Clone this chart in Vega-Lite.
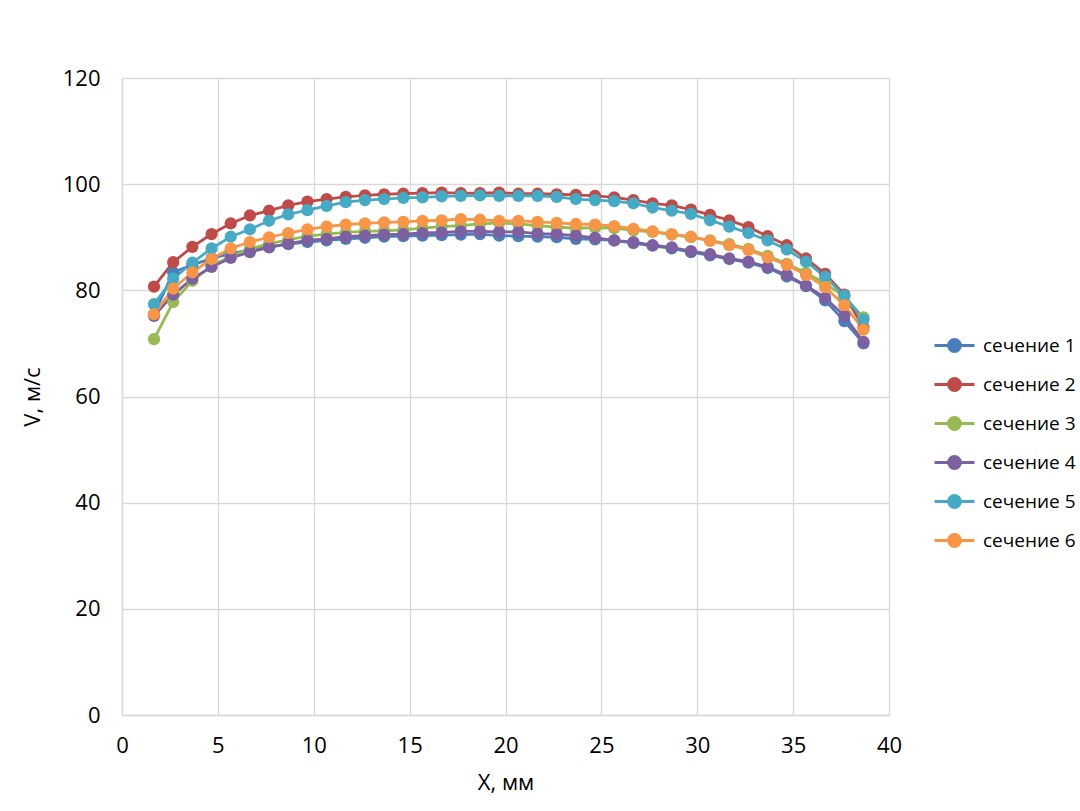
{
  "$schema": "https://vega.github.io/schema/vega-lite/v6.json",
  "description": "V, м/с по сечениям",
  "width": 767,
  "height": 637,
  "autosize": "none",
  "padding": {"left": 122, "top": 78, "right": 191, "bottom": 96},
  "background": "white",
  "config": {
    "view": {"stroke": null},
    "font": "Open Sans",
    "axis": {
      "labelFont": "Open Sans",
      "titleFont": "Open Sans",
      "labelFontSize": 22,
      "titleFontSize": 22,
      "labelColor": "#000000",
      "titleColor": "#000000",
      "titleFontWeight": "normal",
      "gridColor": "#d9d9d9",
      "gridWidth": 1.3,
      "domainColor": "#d9d9d9",
      "domainWidth": 1.3,
      "ticks": false
    }
  },
  "data": {
    "values": [
      {"x": 1.67, "s": "сечение 1", "v": 75.5},
      {"x": 2.67, "s": "сечение 1", "v": 83.4},
      {"x": 3.67, "s": "сечение 1", "v": 84.8},
      {"x": 4.67, "s": "сечение 1", "v": 86.0},
      {"x": 5.67, "s": "сечение 1", "v": 86.9},
      {"x": 6.67, "s": "сечение 1", "v": 87.6},
      {"x": 7.67, "s": "сечение 1", "v": 88.2},
      {"x": 8.67, "s": "сечение 1", "v": 88.7},
      {"x": 9.67, "s": "сечение 1", "v": 89.1},
      {"x": 10.67, "s": "сечение 1", "v": 89.4},
      {"x": 11.67, "s": "сечение 1", "v": 89.7},
      {"x": 12.67, "s": "сечение 1", "v": 89.9},
      {"x": 13.67, "s": "сечение 1", "v": 90.1},
      {"x": 14.67, "s": "сечение 1", "v": 90.2},
      {"x": 15.67, "s": "сечение 1", "v": 90.3},
      {"x": 16.67, "s": "сечение 1", "v": 90.4},
      {"x": 17.67, "s": "сечение 1", "v": 90.5},
      {"x": 18.67, "s": "сечение 1", "v": 90.6},
      {"x": 19.67, "s": "сечение 1", "v": 90.3},
      {"x": 20.67, "s": "сечение 1", "v": 90.2},
      {"x": 21.67, "s": "сечение 1", "v": 90.1},
      {"x": 22.67, "s": "сечение 1", "v": 90.0},
      {"x": 23.67, "s": "сечение 1", "v": 89.7},
      {"x": 24.67, "s": "сечение 1", "v": 89.6},
      {"x": 25.67, "s": "сечение 1", "v": 89.4},
      {"x": 26.67, "s": "сечение 1", "v": 88.9},
      {"x": 27.67, "s": "сечение 1", "v": 88.4},
      {"x": 28.67, "s": "сечение 1", "v": 87.9},
      {"x": 29.67, "s": "сечение 1", "v": 87.2},
      {"x": 30.67, "s": "сечение 1", "v": 86.6},
      {"x": 31.67, "s": "сечение 1", "v": 85.9},
      {"x": 32.67, "s": "сечение 1", "v": 85.2},
      {"x": 33.67, "s": "сечение 1", "v": 84.2},
      {"x": 34.67, "s": "сечение 1", "v": 82.6},
      {"x": 35.67, "s": "сечение 1", "v": 80.8},
      {"x": 36.67, "s": "сечение 1", "v": 78.1},
      {"x": 37.67, "s": "сечение 1", "v": 74.2},
      {"x": 38.67, "s": "сечение 1", "v": 70.0},
      {"x": 1.67, "s": "сечение 2", "v": 80.7},
      {"x": 2.67, "s": "сечение 2", "v": 85.3},
      {"x": 3.67, "s": "сечение 2", "v": 88.2},
      {"x": 4.67, "s": "сечение 2", "v": 90.6},
      {"x": 5.67, "s": "сечение 2", "v": 92.6},
      {"x": 6.67, "s": "сечение 2", "v": 94.1},
      {"x": 7.67, "s": "сечение 2", "v": 95.0},
      {"x": 8.67, "s": "сечение 2", "v": 96.0},
      {"x": 9.67, "s": "сечение 2", "v": 96.7},
      {"x": 10.67, "s": "сечение 2", "v": 97.2},
      {"x": 11.67, "s": "сечение 2", "v": 97.6},
      {"x": 12.67, "s": "сечение 2", "v": 97.9},
      {"x": 13.67, "s": "сечение 2", "v": 98.1},
      {"x": 14.67, "s": "сечение 2", "v": 98.2},
      {"x": 15.67, "s": "сечение 2", "v": 98.3},
      {"x": 16.67, "s": "сечение 2", "v": 98.4},
      {"x": 17.67, "s": "сечение 2", "v": 98.3},
      {"x": 18.67, "s": "сечение 2", "v": 98.3},
      {"x": 19.67, "s": "сечение 2", "v": 98.4},
      {"x": 20.67, "s": "сечение 2", "v": 98.2},
      {"x": 21.67, "s": "сечение 2", "v": 98.2},
      {"x": 22.67, "s": "сечение 2", "v": 98.1},
      {"x": 23.67, "s": "сечение 2", "v": 98.0},
      {"x": 24.67, "s": "сечение 2", "v": 97.8},
      {"x": 25.67, "s": "сечение 2", "v": 97.5},
      {"x": 26.67, "s": "сечение 2", "v": 97.0},
      {"x": 27.67, "s": "сечение 2", "v": 96.4},
      {"x": 28.67, "s": "сечение 2", "v": 96.0},
      {"x": 29.67, "s": "сечение 2", "v": 95.2},
      {"x": 30.67, "s": "сечение 2", "v": 94.2},
      {"x": 31.67, "s": "сечение 2", "v": 93.2},
      {"x": 32.67, "s": "сечение 2", "v": 91.9},
      {"x": 33.67, "s": "сечение 2", "v": 90.2},
      {"x": 34.67, "s": "сечение 2", "v": 88.5},
      {"x": 35.67, "s": "сечение 2", "v": 86.0},
      {"x": 36.67, "s": "сечение 2", "v": 83.1},
      {"x": 37.67, "s": "сечение 2", "v": 79.2},
      {"x": 38.67, "s": "сечение 2", "v": 73.0},
      {"x": 1.67, "s": "сечение 3", "v": 70.8},
      {"x": 2.67, "s": "сечение 3", "v": 77.8},
      {"x": 3.67, "s": "сечение 3", "v": 81.8},
      {"x": 4.67, "s": "сечение 3", "v": 84.6},
      {"x": 5.67, "s": "сечение 3", "v": 86.4},
      {"x": 6.67, "s": "сечение 3", "v": 87.8},
      {"x": 7.67, "s": "сечение 3", "v": 88.8},
      {"x": 8.67, "s": "сечение 3", "v": 89.5},
      {"x": 9.67, "s": "сечение 3", "v": 90.2},
      {"x": 10.67, "s": "сечение 3", "v": 90.6},
      {"x": 11.67, "s": "сечение 3", "v": 90.9},
      {"x": 12.67, "s": "сечение 3", "v": 91.1},
      {"x": 13.67, "s": "сечение 3", "v": 91.2},
      {"x": 14.67, "s": "сечение 3", "v": 91.4},
      {"x": 15.67, "s": "сечение 3", "v": 91.7},
      {"x": 16.67, "s": "сечение 3", "v": 92.0},
      {"x": 17.67, "s": "сечение 3", "v": 92.2},
      {"x": 18.67, "s": "сечение 3", "v": 92.5},
      {"x": 19.67, "s": "сечение 3", "v": 92.7},
      {"x": 20.67, "s": "сечение 3", "v": 92.5},
      {"x": 21.67, "s": "сечение 3", "v": 92.2},
      {"x": 22.67, "s": "сечение 3", "v": 91.9},
      {"x": 23.67, "s": "сечение 3", "v": 91.7},
      {"x": 24.67, "s": "сечение 3", "v": 91.8},
      {"x": 25.67, "s": "сечение 3", "v": 91.7},
      {"x": 26.67, "s": "сечение 3", "v": 91.3},
      {"x": 27.67, "s": "сечение 3", "v": 91.0},
      {"x": 28.67, "s": "сечение 3", "v": 90.5},
      {"x": 29.67, "s": "сечение 3", "v": 90.0},
      {"x": 30.67, "s": "сечение 3", "v": 89.4},
      {"x": 31.67, "s": "сечение 3", "v": 88.7},
      {"x": 32.67, "s": "сечение 3", "v": 87.8},
      {"x": 33.67, "s": "сечение 3", "v": 86.5},
      {"x": 34.67, "s": "сечение 3", "v": 85.0},
      {"x": 35.67, "s": "сечение 3", "v": 83.3},
      {"x": 36.67, "s": "сечение 3", "v": 81.3},
      {"x": 37.67, "s": "сечение 3", "v": 78.8},
      {"x": 38.67, "s": "сечение 3", "v": 74.9},
      {"x": 1.67, "s": "сечение 4", "v": 75.2},
      {"x": 2.67, "s": "сечение 4", "v": 79.2},
      {"x": 3.67, "s": "сечение 4", "v": 82.2},
      {"x": 4.67, "s": "сечение 4", "v": 84.4},
      {"x": 5.67, "s": "сечение 4", "v": 86.1},
      {"x": 6.67, "s": "сечение 4", "v": 87.2},
      {"x": 7.67, "s": "сечение 4", "v": 88.1},
      {"x": 8.67, "s": "сечение 4", "v": 88.8},
      {"x": 9.67, "s": "сечение 4", "v": 89.4},
      {"x": 10.67, "s": "сечение 4", "v": 89.7},
      {"x": 11.67, "s": "сечение 4", "v": 90.1},
      {"x": 12.67, "s": "сечение 4", "v": 90.3},
      {"x": 13.67, "s": "сечение 4", "v": 90.5},
      {"x": 14.67, "s": "сечение 4", "v": 90.6},
      {"x": 15.67, "s": "сечение 4", "v": 90.8},
      {"x": 16.67, "s": "сечение 4", "v": 90.9},
      {"x": 17.67, "s": "сечение 4", "v": 91.1},
      {"x": 18.67, "s": "сечение 4", "v": 91.1},
      {"x": 19.67, "s": "сечение 4", "v": 91.0},
      {"x": 20.67, "s": "сечение 4", "v": 91.0},
      {"x": 21.67, "s": "сечение 4", "v": 90.7},
      {"x": 22.67, "s": "сечение 4", "v": 90.6},
      {"x": 23.67, "s": "сечение 4", "v": 90.3},
      {"x": 24.67, "s": "сечение 4", "v": 89.9},
      {"x": 25.67, "s": "сечение 4", "v": 89.4},
      {"x": 26.67, "s": "сечение 4", "v": 89.1},
      {"x": 27.67, "s": "сечение 4", "v": 88.5},
      {"x": 28.67, "s": "сечение 4", "v": 88.1},
      {"x": 29.67, "s": "сечение 4", "v": 87.4},
      {"x": 30.67, "s": "сечение 4", "v": 86.8},
      {"x": 31.67, "s": "сечение 4", "v": 86.0},
      {"x": 32.67, "s": "сечение 4", "v": 85.4},
      {"x": 33.67, "s": "сечение 4", "v": 84.4},
      {"x": 34.67, "s": "сечение 4", "v": 82.9},
      {"x": 35.67, "s": "сечение 4", "v": 80.9},
      {"x": 36.67, "s": "сечение 4", "v": 78.6},
      {"x": 37.67, "s": "сечение 4", "v": 75.2},
      {"x": 38.67, "s": "сечение 4", "v": 70.3},
      {"x": 1.67, "s": "сечение 5", "v": 77.4},
      {"x": 2.67, "s": "сечение 5", "v": 82.2},
      {"x": 3.67, "s": "сечение 5", "v": 85.2},
      {"x": 4.67, "s": "сечение 5", "v": 87.9},
      {"x": 5.67, "s": "сечение 5", "v": 90.1},
      {"x": 6.67, "s": "сечение 5", "v": 91.5},
      {"x": 7.67, "s": "сечение 5", "v": 93.1},
      {"x": 8.67, "s": "сечение 5", "v": 94.3},
      {"x": 9.67, "s": "сечение 5", "v": 95.1},
      {"x": 10.67, "s": "сечение 5", "v": 95.9},
      {"x": 11.67, "s": "сечение 5", "v": 96.6},
      {"x": 12.67, "s": "сечение 5", "v": 97.0},
      {"x": 13.67, "s": "сечение 5", "v": 97.2},
      {"x": 14.67, "s": "сечение 5", "v": 97.4},
      {"x": 15.67, "s": "сечение 5", "v": 97.5},
      {"x": 16.67, "s": "сечение 5", "v": 97.7},
      {"x": 17.67, "s": "сечение 5", "v": 97.8},
      {"x": 18.67, "s": "сечение 5", "v": 97.9},
      {"x": 19.67, "s": "сечение 5", "v": 97.8},
      {"x": 20.67, "s": "сечение 5", "v": 97.8},
      {"x": 21.67, "s": "сечение 5", "v": 97.8},
      {"x": 22.67, "s": "сечение 5", "v": 97.6},
      {"x": 23.67, "s": "сечение 5", "v": 97.2},
      {"x": 24.67, "s": "сечение 5", "v": 97.0},
      {"x": 25.67, "s": "сечение 5", "v": 96.8},
      {"x": 26.67, "s": "сечение 5", "v": 96.4},
      {"x": 27.67, "s": "сечение 5", "v": 95.6},
      {"x": 28.67, "s": "сечение 5", "v": 95.0},
      {"x": 29.67, "s": "сечение 5", "v": 94.4},
      {"x": 30.67, "s": "сечение 5", "v": 93.2},
      {"x": 31.67, "s": "сечение 5", "v": 92.0},
      {"x": 32.67, "s": "сечение 5", "v": 90.8},
      {"x": 33.67, "s": "сечение 5", "v": 89.4},
      {"x": 34.67, "s": "сечение 5", "v": 87.7},
      {"x": 35.67, "s": "сечение 5", "v": 85.4},
      {"x": 36.67, "s": "сечение 5", "v": 82.6},
      {"x": 37.67, "s": "сечение 5", "v": 79.0},
      {"x": 38.67, "s": "сечение 5", "v": 74.5},
      {"x": 1.67, "s": "сечение 6", "v": 75.5},
      {"x": 2.67, "s": "сечение 6", "v": 80.3},
      {"x": 3.67, "s": "сечение 6", "v": 83.4},
      {"x": 4.67, "s": "сечение 6", "v": 85.9},
      {"x": 5.67, "s": "сечение 6", "v": 87.9},
      {"x": 6.67, "s": "сечение 6", "v": 89.1},
      {"x": 7.67, "s": "сечение 6", "v": 90.0},
      {"x": 8.67, "s": "сечение 6", "v": 90.8},
      {"x": 9.67, "s": "сечение 6", "v": 91.5},
      {"x": 10.67, "s": "сечение 6", "v": 92.0},
      {"x": 11.67, "s": "сечение 6", "v": 92.4},
      {"x": 12.67, "s": "сечение 6", "v": 92.6},
      {"x": 13.67, "s": "сечение 6", "v": 92.8},
      {"x": 14.67, "s": "сечение 6", "v": 92.9},
      {"x": 15.67, "s": "сечение 6", "v": 93.1},
      {"x": 16.67, "s": "сечение 6", "v": 93.2},
      {"x": 17.67, "s": "сечение 6", "v": 93.4},
      {"x": 18.67, "s": "сечение 6", "v": 93.3},
      {"x": 19.67, "s": "сечение 6", "v": 93.1},
      {"x": 20.67, "s": "сечение 6", "v": 93.1},
      {"x": 21.67, "s": "сечение 6", "v": 92.9},
      {"x": 22.67, "s": "сечение 6", "v": 92.7},
      {"x": 23.67, "s": "сечение 6", "v": 92.5},
      {"x": 24.67, "s": "сечение 6", "v": 92.4},
      {"x": 25.67, "s": "сечение 6", "v": 92.1},
      {"x": 26.67, "s": "сечение 6", "v": 91.6},
      {"x": 27.67, "s": "сечение 6", "v": 91.1},
      {"x": 28.67, "s": "сечение 6", "v": 90.6},
      {"x": 29.67, "s": "сечение 6", "v": 90.1},
      {"x": 30.67, "s": "сечение 6", "v": 89.3},
      {"x": 31.67, "s": "сечение 6", "v": 88.5},
      {"x": 32.67, "s": "сечение 6", "v": 87.6},
      {"x": 33.67, "s": "сечение 6", "v": 86.2},
      {"x": 34.67, "s": "сечение 6", "v": 84.8},
      {"x": 35.67, "s": "сечение 6", "v": 82.9},
      {"x": 36.67, "s": "сечение 6", "v": 80.6},
      {"x": 37.67, "s": "сечение 6", "v": 77.2},
      {"x": 38.67, "s": "сечение 6", "v": 72.6}
    ]
  },
  "mark": {
    "type": "line",
    "strokeWidth": 2.8,
    "point": {"filled": true, "size": 150, "opacity": 1}
  },
  "encoding": {
    "x": {
      "field": "x",
      "type": "quantitative",
      "title": "X, мм",
      "scale": {"domain": [0, 40], "nice": false, "zero": false},
      "axis": {"values": [0, 5, 10, 15, 20, 25, 30, 35, 40], "labelPadding": 20, "titlePadding": 16, "labelFlush": false}
    },
    "y": {
      "field": "v",
      "type": "quantitative",
      "title": "V, м/с",
      "scale": {"domain": [0, 120], "nice": false},
      "axis": {"values": [0, 20, 40, 60, 80, 100, 120], "labelPadding": 22, "titlePadding": 18, "labelFlush": false}
    },
    "color": {
      "field": "s",
      "type": "nominal",
      "title": null,
      "scale": {
        "domain": ["сечение 1", "сечение 2", "сечение 3", "сечение 4", "сечение 5", "сечение 6"],
        "range": ["#4a7ebb", "#be4b48", "#98b954", "#7d60a0", "#46aac5", "#f79646"]
      },
      "legend": {
        "orient": "none",
        "legendX": 821,
        "legendY": 256,
        "labelFont": "Open Sans",
        "labelFontSize": 19,
        "labelColor": "#000000",
        "symbolType": "M-2,0L2,0M-0.6,0A0.6,0.6,0,1,0,0.6,0A0.6,0.6,0,1,0,-0.6,0Z",
        "symbolSize": 400,
        "symbolStrokeWidth": 2.8,
        "labelOffset": 17,
        "rowPadding": 14,
        "encode": {
          "symbols": {
            "update": {
              "fill": {"scale": "color", "field": "value"},
              "stroke": {"scale": "color", "field": "value"},
              "fillOpacity": {"value": 1},
              "opacity": {"value": 1}
            }
          }
        }
      }
    },
    "order": {"field": "x", "type": "quantitative"}
  }
}
